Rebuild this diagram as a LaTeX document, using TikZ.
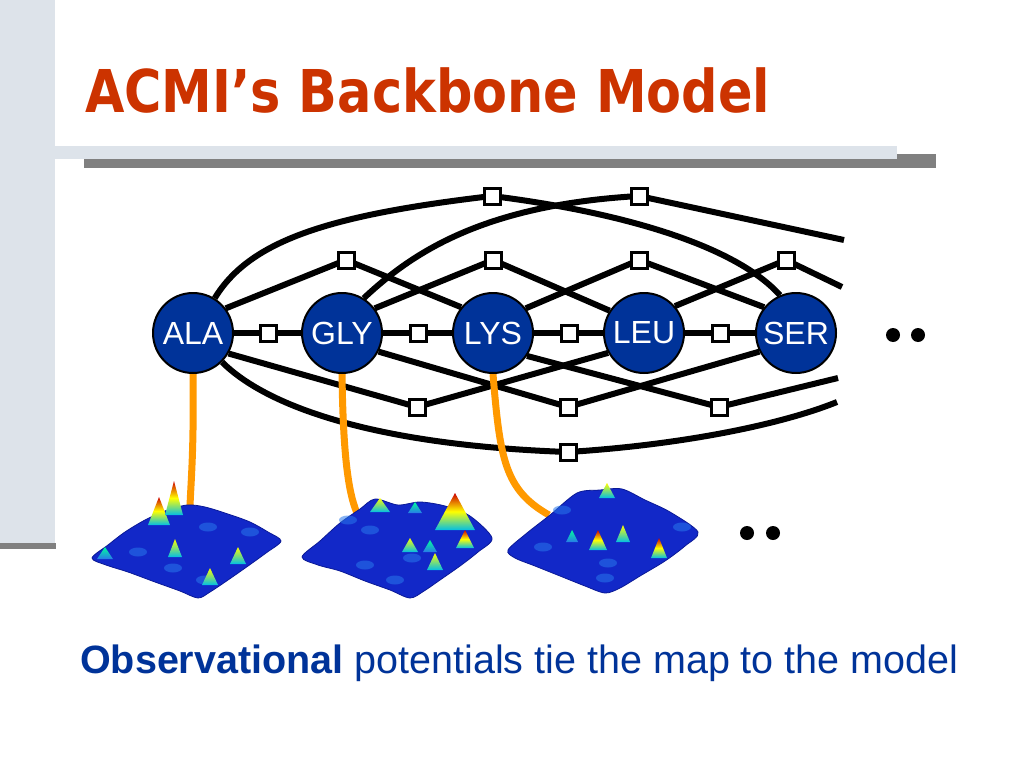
\documentclass[tikz,border=0pt]{standalone}
\usepackage{fontspec}
\usepackage{graphicx}
\setmainfont{Liberation Sans}
\newfontfamily\titlefont{DejaVu Sans}
\pgfdeclarelayer{back}
\pgfdeclarelayer{bg}
\pgfsetlayers{back,bg,main}
\definecolor{titlered}{RGB}{204,51,0}
\definecolor{navy}{RGB}{0,51,153}
\definecolor{barblue}{RGB}{221,227,234}
\definecolor{bargray}{RGB}{128,128,128}
\definecolor{orangeln}{RGB}{255,153,0}
\definecolor{mapblue}{RGB}{18,40,200}
\definecolor{mapedge}{RGB}{10,25,150}
\definecolor{maplight}{RGB}{40,120,235}
\definecolor{peakbase}{RGB}{0,190,230}
\newcommand\hotpeak[4]{\shade[bottom color=peakbase, top color=red!80!black, middle color=yellow] (#1-#3,#2) -- (#1,#2-#4) -- (#1+#3,#2) -- cycle;}
\newcommand\warmpeak[4]{\shade[bottom color=peakbase, top color=yellow] (#1-#3,#2) -- (#1,#2-#4) -- (#1+#3,#2) -- cycle;}
\newcommand\coolpeak[4]{\shade[bottom color=maplight, top color=cyan!60!green] (#1-#3,#2) -- (#1,#2-#4) -- (#1+#3,#2) -- cycle;}
\newcommand\bump[2]{\fill[maplight,opacity=0.55] (#1,#2) ellipse (9pt and 4.5pt);}
\begin{document}
\begin{tikzpicture}[x=1pt,y=-1pt,
  residue/.style={circle,draw=black,line width=2pt,fill=navy,minimum size=80pt,inner sep=0pt,text=white,font=\fontsize{32}{32}\selectfont},
  factor/.style={rectangle,draw=black,line width=3pt,fill=white,minimum size=16pt,inner sep=0pt},
  bond/.style={line width=6pt,black},
  tie/.style={line width=7pt,orangeln},
  dotmark/.style={circle,fill=black,inner sep=0pt,minimum size=14pt},
  map/.style={fill=mapblue,draw=mapedge,line width=0.8pt},
]
\useasboundingbox (0,0) rectangle (1024,768);
\begin{pgfonlayer}{back}
\fill[white] (0,0) rectangle (1024,768);
% slide decoration
\fill[barblue] (0,0) rectangle (55,545);
\fill[bargray] (0,543) rectangle (56,549);
\fill[bargray] (84,154) rectangle (936,168);
\fill[barblue] (55,146) rectangle (897,159);
\end{pgfonlayer}

\node[anchor=base west,inner sep=0pt,text=titlered] (title) at (85,112)
  {\resizebox{685pt}{\height}{\titlefont\bfseries\fontsize{59}{59}\selectfont ACMI’s Backbone Model}};

% residues
\node[residue] (ALA) at (193,333) {ALA};
\node[residue] (GLY) at (342,333) {GLY};
\node[residue] (LYS) at (493,333) {LYS};
\node[residue] (LEU) at (644,333) {LEU};
\node[residue] (SER) at (796,333) {SER};

% factor squares
\node[factor] (m1) at (268,333) {};
\node[factor] (m2) at (418,333) {};
\node[factor] (m3) at (569,333) {};
\node[factor] (m4) at (720,333) {};
\node[factor] (u1) at (346,260) {};
\node[factor] (u2) at (493,260) {};
\node[factor] (u3) at (639,260) {};
\node[factor] (u4) at (786,260) {};
\node[factor] (t1) at (492,196) {};
\node[factor] (t2) at (639,196) {};
\node[factor] (l1) at (417,407) {};
\node[factor] (l2) at (568,407) {};
\node[factor] (l3) at (719,407) {};
\node[factor] (b1) at (568,452) {};

\coordinate (e1) at (844,240);
\coordinate (e2) at (842,287);
\coordinate (e3) at (838,378);
\coordinate (e4) at (837,402);

\coordinate (p1) at (190,506);
\coordinate (p2) at (357,513);
\coordinate (p3) at (549,515);

\begin{pgfonlayer}{bg}
\draw[bond] (ALA.center) -- (m1.center) -- (GLY.center) -- (m2.center) -- (LYS.center) -- (m3.center) -- (LEU.center) -- (m4.center) -- (SER.center);
\draw[bond] (ALA.37) -- (u1.center) -- (LYS.141);
\draw[bond] (GLY.37) -- (u2.center) -- (LEU.147);
\draw[bond] (LYS.37) -- (u3.center) -- (SER.141);
\draw[bond] (LEU.41) -- (u4.center) -- (e2);
\draw[bond] (ALA.-30) -- (l1.center) -- (LEU.209);
\draw[bond] (GLY.-27) -- (l2.center) -- (SER.207);
\draw[bond] (LYS.-34) -- (l3.center) -- (e3);
\draw[bond] (ALA.58) .. controls (250,240) and (330,215) .. (t1.center) .. controls (620,212) and (735,245) .. (SER.113);
\draw[bond] (GLY.58) .. controls (410,255) and (480,205) .. (t2.center) -- (e1);
\draw[bond] (ALA.-45) .. controls (265,405) and (370,445) .. (b1.center) .. controls (680,445) and (780,425) .. (e4);
\draw[tie] (ALA.south) .. controls (194,450) and (191,480) .. (p1);
\draw[tie] (GLY.south) .. controls (343,445) and (347,490) .. (p2);
\draw[tie] (LYS.south) .. controls (500,460) and (505,490) .. (p3);
\end{pgfonlayer}

\node[dotmark] (d1) at (893,335) {};
\node[dotmark] (d2) at (918,335) {};
\node[dotmark] (d3) at (747,533) {};
\node[dotmark] (d4) at (773,533) {};

% map 1
\filldraw[map] plot[smooth cycle,tension=0.5] coordinates {(92,558) (108,545) (125,532) (145,520) (165,511) (187,505) (205,507) (228,514) (250,522) (268,532) (281,541) (266,553) (248,566) (228,580) (210,592) (198,598) (180,591) (155,582) (128,572) (106,565)};
\bump{208}{527}\bump{138}{552}\bump{173}{568}\bump{205}{580}\bump{250}{532}
\hotpeak{159}{525}{11}{28}
\hotpeak{174}{515}{9}{34}
\warmpeak{175}{557}{7}{18}
\warmpeak{238}{564}{8}{17}
\warmpeak{210}{585}{8}{17}
\coolpeak{105}{559}{8}{12}

% map 2
\filldraw[map] plot[smooth cycle,tension=0.5] coordinates {(302,557) (320,541) (340,523) (360,509) (375,499) (398,505) (420,502) (445,506) (470,516) (492,538) (478,552) (460,566) (440,580) (424,591) (410,598) (390,590) (365,581) (340,571) (318,565)};
\bump{412}{558}\bump{370}{530}\bump{348}{520}\bump{365}{565}\bump{395}{580}
\hotpeak{455}{530}{20}{37}
\hotpeak{465}{548}{9}{18}
\warmpeak{380}{512}{10}{14}
\coolpeak{415}{513}{7}{11}
\warmpeak{410}{552}{8}{14}
\coolpeak{430}{552}{7}{12}
\warmpeak{435}{570}{8}{17}

% map 3
\filldraw[map] plot[smooth cycle,tension=0.5] coordinates {(508,550) (527,533) (550,515) (577,493) (600,490) (622,489) (645,500) (670,512) (698,532) (685,546) (665,561) (640,576) (620,588) (605,593) (585,586) (560,576) (535,566) (515,558)};
\bump{562}{510}\bump{543}{547}\bump{608}{563}\bump{605}{578}\bump{682}{527}
\hotpeak{598}{550}{9}{20}
\warmpeak{623}{542}{7}{17}
\hotpeak{659}{558}{8}{20}
\warmpeak{607}{498}{8}{15}
\coolpeak{572}{542}{6}{12}

\node[anchor=base west,inner sep=0pt,text=navy,font=\fontsize{39.5}{41}\selectfont] (caption) at (80,673)
  {\textbf{Observational} potentials tie the map to the model};
\end{tikzpicture}
\end{document}
